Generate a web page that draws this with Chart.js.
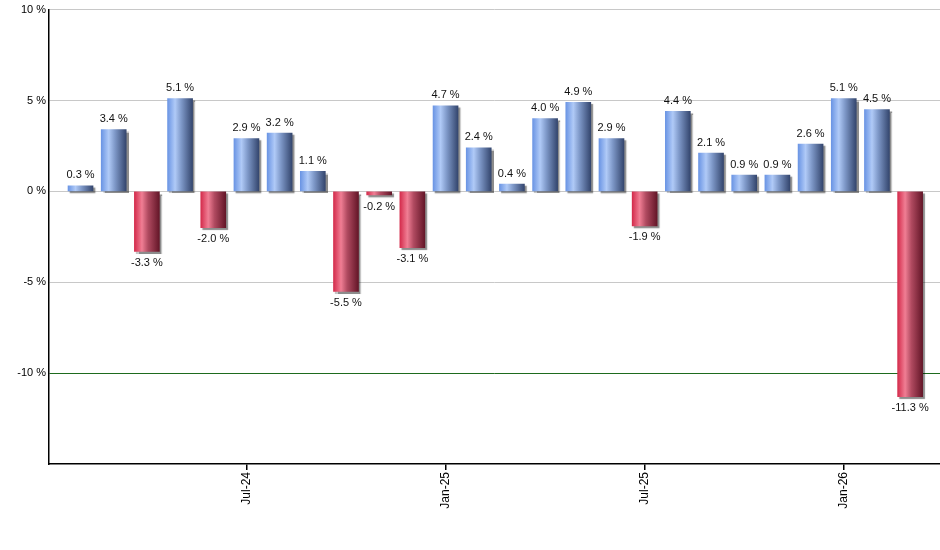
<!DOCTYPE html>
<html>
<head>
<meta charset="utf-8">
<script src="https://cdn.jsdelivr.net/npm/chart.js@4.4.1/dist/chart.umd.min.js"></script>
<style>
  html, body { margin: 0; padding: 0; background: #fff; }
  #wrap { width: 940px; height: 550px; }
</style>
</head>
<body>
<div id="wrap"><canvas id="barChart"></canvas></div>
<script>
const months = ["Feb-24", "Mar-24", "Apr-24", "May-24", "Jun-24", "Jul-24", "Aug-24", "Sep-24",
  "Oct-24", "Nov-24", "Dec-24", "Jan-25", "Feb-25", "Mar-25", "Apr-25", "May-25", "Jun-25",
  "Jul-25", "Aug-25", "Sep-25", "Oct-25", "Nov-25", "Dec-25", "Jan-26", "Feb-26", "Mar-26"]
const returns = [0.3, 3.4, -3.3, 5.1, -2.0, 2.9, 3.2, 1.1, -5.5, -0.2, -3.1, 4.7, 2.4, 0.4,
  4.0, 4.9, 2.9, -1.9, 4.4, 2.1, 0.9, 0.9, 2.6, 5.1, 4.5, -11.3]
const tickMonths = ["Jul-24", "Jan-25", "Jul-25", "Jan-26"]
const yTicks = [10, 5, 0, -5, -10]

const FONT = "'Liberation Sans', Arial, sans-serif"

function barGradient(ctx, left, right, up) {
  let g = ctx.createLinearGradient(left, 0, right, 0)
  if (up) {
    g.addColorStop(0, '#6b95e4')
    g.addColorStop(0.3, '#b0caf7')
    g.addColorStop(0.55, '#7e98c8')
    g.addColorStop(1, '#34466e')
  } else {
    g.addColorStop(0, '#d42c4c')
    g.addColorStop(0.3, '#f07e94')
    g.addColorStop(0.55, '#b04a60')
    g.addColorStop(1, '#641628')
  }
  return g
}

// gradient fill + soft shadow on the right/bottom of each bar, then value labels
const barStyle = {
  id: 'barStyle',
  beforeDatasetsDraw(chart) {
    const meta = chart.getDatasetMeta(0)
    meta.data.forEach((bar, i) => {
      const half = bar.width / 2
      bar.options.backgroundColor = barGradient(chart.ctx, bar.x - half, bar.x + half, returns[i] >= 0)
    })
    chart.ctx.save()
    chart.ctx.shadowColor = 'rgba(0,0,0,0.45)'
    chart.ctx.shadowOffsetX = 2
    chart.ctx.shadowOffsetY = 2
    chart.ctx.shadowBlur = 1
  },
  afterDatasetsDraw(chart) {
    chart.ctx.restore()
    const ctx = chart.ctx
    const meta = chart.getDatasetMeta(0)
    ctx.save()
    ctx.font = '11px ' + FONT
    ctx.fillStyle = '#111'
    ctx.textAlign = 'center'
    meta.data.forEach((bar, i) => {
      const v = returns[i]
      const txt = v.toFixed(1) + ' %'
      if (v >= 0) {
        ctx.textBaseline = 'bottom'
        ctx.fillText(txt, bar.x, bar.y - 5)
      } else {
        ctx.textBaseline = 'top'
        ctx.fillText(txt, bar.x, bar.y + 6)
      }
    })
    ctx.restore()
  }
}

new Chart(document.getElementById('barChart'), {
  type: 'bar',
  data: {
    datasets: [{
      data: returns.map((v, i) => ({ x: i, y: v })),
      backgroundColor: ctx => returns[ctx.dataIndex] >= 0 ? '#6b95e4' : '#d42c4c',
      borderWidth: 0,
      barThickness: 25,
    }]
  },
  plugins: [barStyle],
  options: {
    responsive: true,
    maintainAspectRatio: false,
    animation: false,
    layout: { padding: { top: 9, right: 0, left: 0, bottom: 0 } },
    plugins: { legend: { display: false }, tooltip: { enabled: false } },
    scales: {
      x: {
        type: 'linear',
        offset: false,
        min: -0.95,
        max: 25.9,
        afterFit(scale) { scale.height = 86 },
        afterBuildTicks(scale) {
          scale.ticks = tickMonths.map(m => ({ value: months.indexOf(m) }))
        },
        grid: { display: true, offset: false, drawOnChartArea: false, drawTicks: true, tickLength: 6, color: '#000', lineWidth: 1.5 },
        border: { color: '#000', width: 1.5 },
        ticks: {
          autoSkip: false,
          minRotation: 90,
          maxRotation: 90,
          padding: 2,
          color: '#000',
          font: { family: FONT, size: 12 },
          callback: v => months[v]
        }
      },
      y: {
        min: -15,
        max: 10,
        afterFit(scale) { scale.width = 49 },
        afterBuildTicks(scale) {
          scale.ticks = yTicks.map(v => ({ value: v }))
        },
        grid: {
          drawTicks: false,
          lineWidth: 1,
          color: ctx => ctx.tick && ctx.tick.value === -10 ? '#1e6b1e' : '#c8c8c8'
        },
        border: { color: '#000', width: 1.5 },
        ticks: {
          padding: 3,
          color: '#000',
          font: { family: FONT, size: 11 },
          callback: v => v + ' %'
        }
      }
    }
  }
})
</script>
</body>
</html>
